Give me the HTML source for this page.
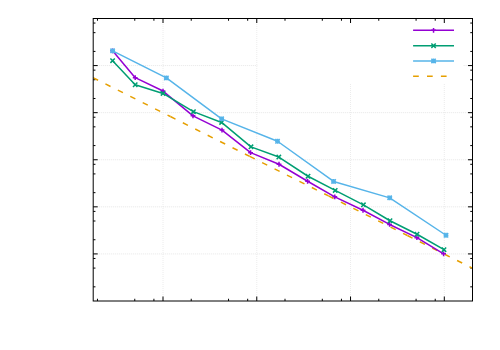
<!DOCTYPE html>
<html><head><meta charset="utf-8"><title>plot</title>
<style>html,body{margin:0;padding:0;background:#fff;font-family:"Liberation Sans",sans-serif}svg{display:block}</style>
</head><body>
<svg width="500" height="350" viewBox="0 0 500 350">
<rect width="500" height="350" fill="#fff"/>
<defs><clipPath id="c"><rect x="93.20" y="18.50" width="379.30" height="282.50"/></clipPath></defs>
<path d="M163.00 301.00V18.50M256.77 301.00V18.50M350.54 301.00V83.50M444.31 301.00V83.50" fill="none" stroke="#ececec" stroke-width="1" stroke-dasharray="1 1"/>
<path d="M93.20 65.58H257.50M463.60 65.58H472.50M93.20 112.67H472.50M93.20 159.75H472.50M93.20 206.83H472.50M93.20 253.92H472.50" fill="none" stroke="#e6e6e6" stroke-width="1" stroke-dasharray="1 1"/>
<path d="M97.46 301.00v-2.25M97.46 18.50v2.25M134.77 301.00v-2.25M134.77 18.50v2.25M153.91 301.00v-2.25M153.91 18.50v2.25M163.00 301.00v-4.50M163.00 18.50v4.50M191.23 301.00v-2.25M191.23 18.50v2.25M228.54 301.00v-2.25M228.54 18.50v2.25M247.68 301.00v-2.25M247.68 18.50v2.25M256.77 301.00v-4.50M256.77 18.50v4.50M285.00 301.00v-2.25M285.00 18.50v2.25M322.31 301.00v-2.25M322.31 18.50v2.25M341.45 301.00v-2.25M341.45 18.50v2.25M350.54 301.00v-4.50M350.54 18.50v4.50M378.77 301.00v-2.25M378.77 18.50v2.25M416.08 301.00v-2.25M416.08 18.50v2.25M435.22 301.00v-2.25M435.22 18.50v2.25M444.31 301.00v-4.50M444.31 18.50v4.50M93.20 51.41h2.25M472.50 51.41h-2.25M93.20 32.67h2.25M472.50 32.67h-2.25M93.20 23.06h2.25M472.50 23.06h-2.25M93.20 65.58h4.50M472.50 65.58h-4.50M93.20 98.49h2.25M472.50 98.49h-2.25M93.20 79.76h2.25M472.50 79.76h-2.25M93.20 70.15h2.25M472.50 70.15h-2.25M93.20 112.67h4.50M472.50 112.67h-4.50M93.20 145.58h2.25M472.50 145.58h-2.25M93.20 126.84h2.25M472.50 126.84h-2.25M93.20 117.23h2.25M472.50 117.23h-2.25M93.20 159.75h4.50M472.50 159.75h-4.50M93.20 192.66h2.25M472.50 192.66h-2.25M93.20 173.92h2.25M472.50 173.92h-2.25M93.20 164.31h2.25M472.50 164.31h-2.25M93.20 206.83h4.50M472.50 206.83h-4.50M93.20 239.74h2.25M472.50 239.74h-2.25M93.20 221.01h2.25M472.50 221.01h-2.25M93.20 211.40h2.25M472.50 211.40h-2.25M93.20 253.92h4.50M472.50 253.92h-4.50M93.20 286.83h2.25M472.50 286.83h-2.25M93.20 268.09h2.25M472.50 268.09h-2.25M93.20 258.48h2.25M472.50 258.48h-2.25" fill="none" stroke="#000" stroke-width="1"/>
<g clip-path="url(#c)" fill="none" stroke="#E69F00" stroke-width="1.5" stroke-dasharray="5.7 8.2">
<path d="M93.00 77.67L170.40 116.53"/>
<path d="M170.40 116.53L249.70 156.35"/>
<path d="M249.70 156.35L328.50 195.91"/>
<path d="M328.50 195.91L407.40 235.53"/>
<path d="M407.40 235.53L480.00 271.98"/>
</g>
<path d="M112.60 50.85L135.20 77.65L163.00 91.05L193.00 115.85L222.00 130.05L250.60 152.65L279.00 164.25L307.60 181.25L334.80 196.85L363.00 210.25L389.60 224.45L416.90 237.65L443.60 253.85" fill="none" stroke="#9400D3" stroke-width="1.5" stroke-linejoin="round"/>
<path d="M413.10 30.35L454.00 30.35" fill="none" stroke="#9400D3" stroke-width="1.5" stroke-linejoin="round"/>
<path d="M112.60 48.45v4.80M110.20 50.85h4.80M135.20 75.25v4.80M132.80 77.65h4.80M163.00 88.65v4.80M160.60 91.05h4.80M193.00 113.45v4.80M190.60 115.85h4.80M222.00 127.65v4.80M219.60 130.05h4.80M250.60 150.25v4.80M248.20 152.65h4.80M279.00 161.85v4.80M276.60 164.25h4.80M307.60 178.85v4.80M305.20 181.25h4.80M334.80 194.45v4.80M332.40 196.85h4.80M363.00 207.85v4.80M360.60 210.25h4.80M389.60 222.05v4.80M387.20 224.45h4.80M416.90 235.25v4.80M414.50 237.65h4.80M443.60 251.45v4.80M441.20 253.85h4.80M433.55 27.95v4.80M431.15 30.35h4.80" fill="none" stroke="#9400D3" stroke-width="1.5"/>
<path d="M112.60 60.65L135.20 84.75L163.00 93.45L193.40 111.65L221.60 122.45L251.00 146.85L278.80 157.05L308.00 176.25L335.20 190.45L363.40 204.85L390.00 220.75L417.00 234.25L444.00 249.65" fill="none" stroke="#009E73" stroke-width="1.5" stroke-linejoin="round"/>
<path d="M413.10 45.65L454.00 45.65" fill="none" stroke="#009E73" stroke-width="1.5" stroke-linejoin="round"/>
<path d="M110.40 58.45l4.40 4.40M110.40 62.85l4.40 -4.40M133.00 82.55l4.40 4.40M133.00 86.95l4.40 -4.40M160.80 91.25l4.40 4.40M160.80 95.65l4.40 -4.40M191.20 109.45l4.40 4.40M191.20 113.85l4.40 -4.40M219.40 120.25l4.40 4.40M219.40 124.65l4.40 -4.40M248.80 144.65l4.40 4.40M248.80 149.05l4.40 -4.40M276.60 154.85l4.40 4.40M276.60 159.25l4.40 -4.40M305.80 174.05l4.40 4.40M305.80 178.45l4.40 -4.40M333.00 188.25l4.40 4.40M333.00 192.65l4.40 -4.40M361.20 202.65l4.40 4.40M361.20 207.05l4.40 -4.40M387.80 218.55l4.40 4.40M387.80 222.95l4.40 -4.40M414.80 232.05l4.40 4.40M414.80 236.45l4.40 -4.40M441.80 247.45l4.40 4.40M441.80 251.85l4.40 -4.40M431.35 43.45l4.40 4.40M431.35 47.85l4.40 -4.40" fill="none" stroke="#009E73" stroke-width="1.5"/>
<path d="M112.60 50.85L166.40 77.95L221.60 118.85L277.50 141.25L333.60 181.45L389.70 197.85L446.00 235.25" fill="none" stroke="#56B4E9" stroke-width="1.5" stroke-linejoin="round"/>
<path d="M413.10 60.95L454.00 60.95" fill="none" stroke="#56B4E9" stroke-width="1.5" stroke-linejoin="round"/>
<path d="M110.40 48.65l4.40 4.40M110.40 53.05l4.40 -4.40M112.60 48.45v4.80M110.20 50.85h4.80M164.20 75.75l4.40 4.40M164.20 80.15l4.40 -4.40M166.40 75.55v4.80M164.00 77.95h4.80M219.40 116.65l4.40 4.40M219.40 121.05l4.40 -4.40M221.60 116.45v4.80M219.20 118.85h4.80M275.30 139.05l4.40 4.40M275.30 143.45l4.40 -4.40M277.50 138.85v4.80M275.10 141.25h4.80M331.40 179.25l4.40 4.40M331.40 183.65l4.40 -4.40M333.60 179.05v4.80M331.20 181.45h4.80M387.50 195.65l4.40 4.40M387.50 200.05l4.40 -4.40M389.70 195.45v4.80M387.30 197.85h4.80M443.80 233.05l4.40 4.40M443.80 237.45l4.40 -4.40M446.00 232.85v4.80M443.60 235.25h4.80M431.35 58.75l4.40 4.40M431.35 63.15l4.40 -4.40M433.55 58.55v4.80M431.15 60.95h4.80" fill="none" stroke="#56B4E9" stroke-width="1.5"/>
<path d="M413.10 76.25H454.00" fill="none" stroke="#E69F00" stroke-width="1.5" stroke-dasharray="5.7 8.2"/>
<rect x="93.20" y="18.50" width="379.30" height="282.50" fill="none" stroke="#000" stroke-width="1"/>
</svg>
</body></html>
